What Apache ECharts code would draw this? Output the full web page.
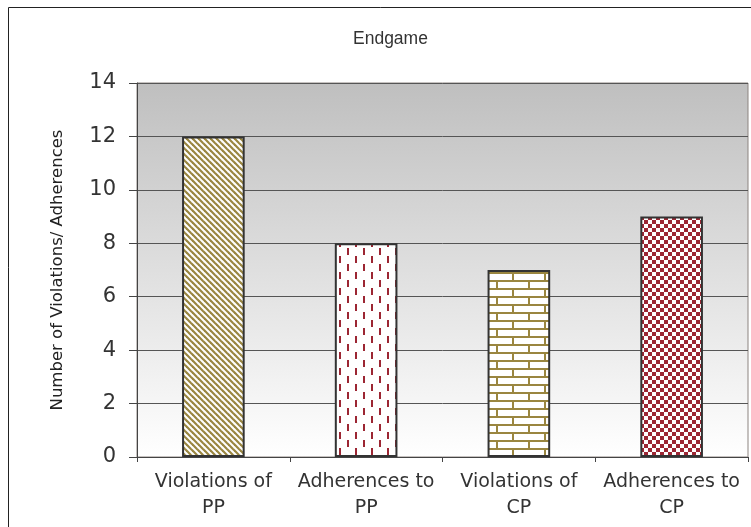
<!DOCTYPE html>
<html><head><meta charset="utf-8">
<script src="https://cdn.jsdelivr.net/npm/echarts@6/dist/echarts.min.js"></script>
<style>html,body{margin:0;padding:0;background:#fff}#c{width:751px;height:527px}</style>
</head><body><div id="c"></div>
<script>
const categories = ['Violations of\nPP', 'Adherences to\nPP', 'Violations of\nCP', 'Adherences to\nCP'];
const values = [12, 8, 7, 9];
const yTicks = [0, 2, 4, 6, 8, 10, 12, 14];

const OLIVE = '#9a8640';
const RED = '#9c2633';

function tile(w, h, draw) {
  const c = document.createElement('canvas');
  c.width = w; c.height = h;
  const g = c.getContext('2d');
  g.fillStyle = '#fff'; g.fillRect(0, 0, w, h);
  draw(g);
  return c;
}
const diag = tile(6, 6, g => {
  g.strokeStyle = OLIVE; g.lineWidth = 2.2;
  for (let k = -6; k <= 6; k += 6) {
    g.beginPath(); g.moveTo(k - 2, -2); g.lineTo(k + 8, 8); g.stroke();
  }
});
const dash = tile(16, 16, g => {
  g.fillStyle = RED;
  g.fillRect(3, 0, 2, 7);
  g.fillRect(11, 8, 2, 7);
});
const brick = tile(32, 16, g => {
  g.fillStyle = OLIVE;
  g.fillRect(0, 0, 32, 2);
  g.fillRect(0, 8, 32, 2);
  g.fillRect(0, 0, 2, 8);
  g.fillRect(16, 8, 2, 8);
});
const check = tile(8, 8, g => {
  g.fillStyle = RED;
  g.fillRect(0, 0, 4, 4);
  g.fillRect(4, 4, 4, 4);
});
const patterns = [diag, dash, brick, check];

const chart = echarts.init(document.getElementById('c'), null, {renderer: 'canvas'});
chart.setOption({
  animation: false,
  backgroundColor: '#fff',
  title: {
    text: 'Endgame', left: 348, top: 25,
    textStyle: {fontFamily: 'Liberation Sans', fontSize: 17.5, fontWeight: 'normal', color: '#333'}
  },
  graphic: [{
    type: 'rect', z: 100, silent: true,
    shape: {x: 8.5, y: 7.5, width: 800, height: 600},
    style: {fill: 'none', stroke: '#222', lineWidth: 1}
  }],
  grid: {
    left: 137, right: 3, top: 83, bottom: 70, show: true,
    borderColor: '#8c8480', borderWidth: 1,
    backgroundColor: new echarts.graphic.LinearGradient(0, 0, 0, 1, [
      {offset: 0, color: '#bfbfbf'}, {offset: 1, color: '#ffffff'}
    ])
  },
  xAxis: {
    type: 'category', data: categories,
    axisLine: {lineStyle: {color: '#444', width: 1}},
    axisTick: {show: true, interval: 0, length: 5, lineStyle: {color: '#444'}},
    axisLabel: {interval: 0, fontFamily: 'DejaVu Sans', fontSize: 19, color: '#333', lineHeight: 26, margin: 12}
  },
  yAxis: {
    type: 'value', min: yTicks[0], max: yTicks[yTicks.length - 1], interval: 2,
    name: 'Number of Violations/ Adherences', nameLocation: 'middle', nameGap: 71,
    nameTextStyle: {fontFamily: 'DejaVu Sans', fontSize: 16.5, color: '#222'},
    axisLine: {show: true, lineStyle: {color: '#444', width: 1}},
    axisTick: {show: true, length: 8, lineStyle: {color: '#444'}},
    axisLabel: {fontFamily: 'DejaVu Sans', fontSize: 21, color: '#333', margin: 21},
    splitLine: {show: true, lineStyle: {color: '#555', width: 1}}
  },
  series: [{
    type: 'bar', barWidth: '41%',
    data: values.map((v, i) => ({
      value: v,
      itemStyle: {color: {image: patterns[i], repeat: 'repeat'}, borderColor: '#333', borderWidth: 2}
    }))
  }]
});
</script></body></html>
